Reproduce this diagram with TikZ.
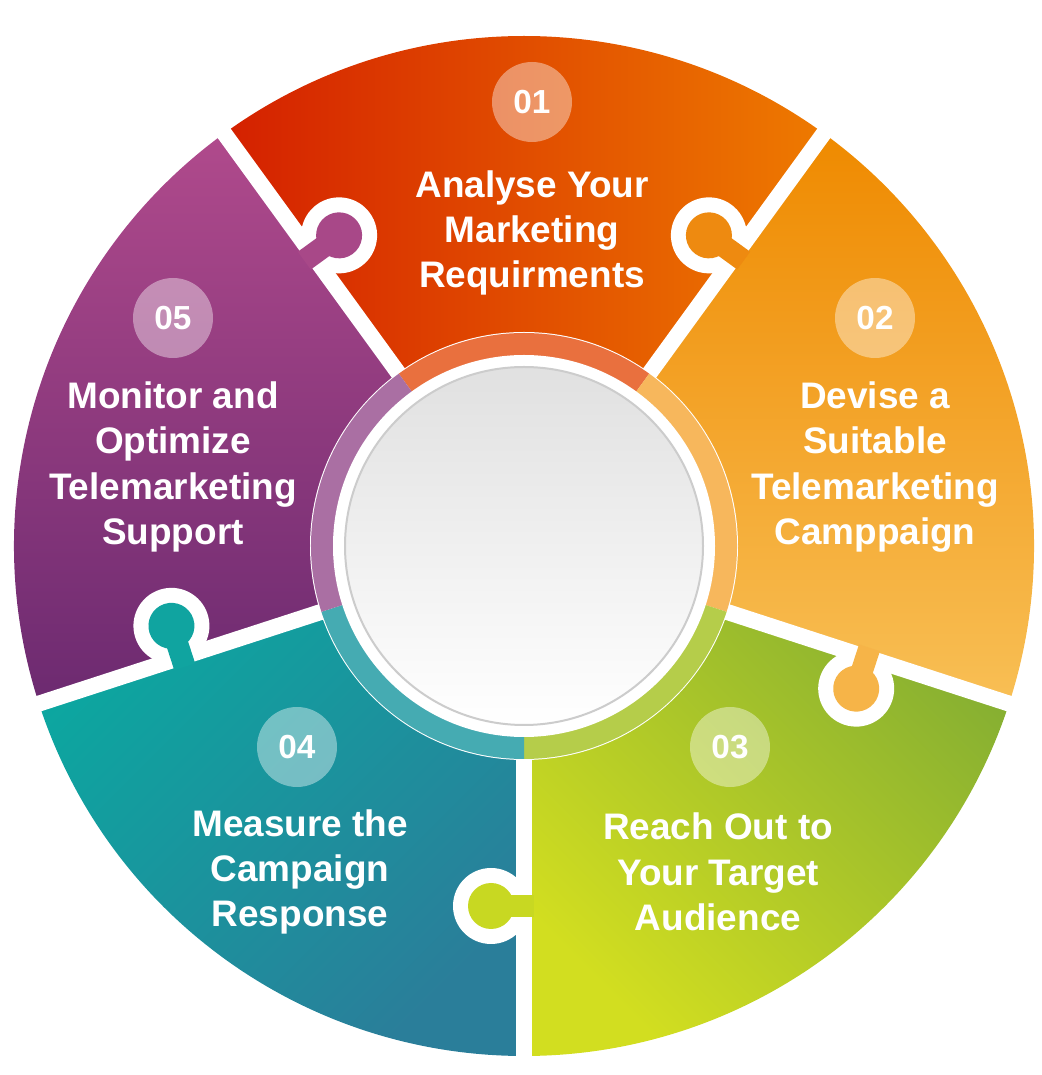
\documentclass[tikz,border=0pt]{standalone}
\usepackage{fontspec}
\setmainfont{Liberation Sans}
\definecolor{segA1}{HTML}{D42000}\definecolor{segA2}{HTML}{EE7A00}
\definecolor{segB1}{HTML}{EF8A00}\definecolor{segB2}{HTML}{F8BF55}
\definecolor{segC1}{HTML}{D2DE20}\definecolor{segC2}{HTML}{84AE32}
\definecolor{segD1}{HTML}{0BA8A0}\definecolor{segD2}{HTML}{2A7E9A}
\definecolor{segE1}{HTML}{B04A8C}\definecolor{segE2}{HTML}{6C2A70}
\definecolor{ringA}{HTML}{E9703E}\definecolor{ringB}{HTML}{F7B75C}
\definecolor{ringC}{HTML}{B5CD4A}\definecolor{ringD}{HTML}{45ABB2}
\definecolor{ringE}{HTML}{AA6FA3}
\tikzset{
  steptext/.style={text=white,font=\bfseries\fontsize{27.7}{34}\selectfont,align=center},
  numdot/.style={circle,fill=white,fill opacity=0.4,text opacity=1,minimum size=60pt,inner sep=0pt,
    text=white,font=\bfseries\fontsize{25}{25}\selectfont},
  gap/.style={white,line width=12pt}
}
\begin{document}
\begin{tikzpicture}[x=0.75pt,y=0.75pt]
  \useasboundingbox (0,0) rectangle (1042,1075);
  \coordinate (c) at (524,529);
  % puzzle pieces
  \shade[left color=segA1,right color=segA2] (c) -- ++(54:510) arc[start angle=54,end angle=126,radius=510] -- cycle;
  \shade[top color=segB1,bottom color=segB2] (c) -- ++(-18:510) arc[start angle=-18,end angle=54,radius=510] -- cycle;
  \shade[top color=segC1,bottom color=segC2,shading angle=135] (c) -- ++(270:510) arc[start angle=270,end angle=342,radius=510] -- cycle;
  \shade[top color=segD1,bottom color=segD2,shading angle=45] (c) -- ++(198:510) arc[start angle=198,end angle=270,radius=510] -- cycle;
  \shade[top color=segE1,bottom color=segE2] (c) -- ++(126:510) arc[start angle=126,end angle=198,radius=510] -- cycle;
  \foreach \b in {54,126,198,270,342} \draw[gap] (c) -- ++(\b:530);
  % knobs: boundary angle / side of owner / colour
  \foreach \b/\s/\col in {126/1/A84888,54/-1/EE8A10,342/1/F6B448,270/1/C8D822,198/1/10A4A0}{
    \begin{scope}[shift={(c)},rotate=\b]
      \definecolor{kn}{HTML}{\col}
      \fill[white] (360,-33*\s) circle[radius=38];
      \fill[kn] (360,-33*\s) circle[radius=23];
      \fill[kn] (349,-33*\s) -- (371,-33*\s) -- (371,10*\s) -- (349,10*\s) -- cycle;
    \end{scope}
  }
  % centre ring
  \fill[white] (c) circle[radius=214];
  \fill[ringA] (c) -- ++(54:213) arc[start angle=54,end angle=126,radius=213] -- cycle;
  \fill[ringB] (c) -- ++(-18:213) arc[start angle=-18,end angle=54,radius=213] -- cycle;
  \fill[ringC] (c) -- ++(270:213) arc[start angle=270,end angle=342,radius=213] -- cycle;
  \fill[ringD] (c) -- ++(198:213) arc[start angle=198,end angle=270,radius=213] -- cycle;
  \fill[ringE] (c) -- ++(126:213) arc[start angle=126,end angle=198,radius=213] -- cycle;
  \fill[white] (c) circle[radius=191];
  \shade[top color=black!12,bottom color=white,draw=black!20,line width=1.5pt] (c) circle[radius=179];
  % numbers
  \node[numdot] (n1) at (532,973) {01};
  \node[numdot] (n2) at (875,757) {02};
  \node[numdot] (n3) at (730,328) {03};
  \node[numdot] (n4) at (297,328) {04};
  \node[numdot] (n5) at (173,757) {05};
  % texts
  \node[steptext] (t1) at (532,842) {Analyse Your\\Marketing\\Requirments};
  \node[steptext] (t2) at (875,608) {Devise a\\Suitable\\Telemarketing\\Camppaign};
  \node[steptext] (t3) at (718,203) {Reach Out to\\Your Target\\Audience};
  \node[steptext] (t4) at (300,203) {Measure the\\Campaign\\Response};
  \node[steptext] (t5) at (173,608) {Monitor and\\Optimize\\Telemarketing\\Support};
\end{tikzpicture}
\end{document}
